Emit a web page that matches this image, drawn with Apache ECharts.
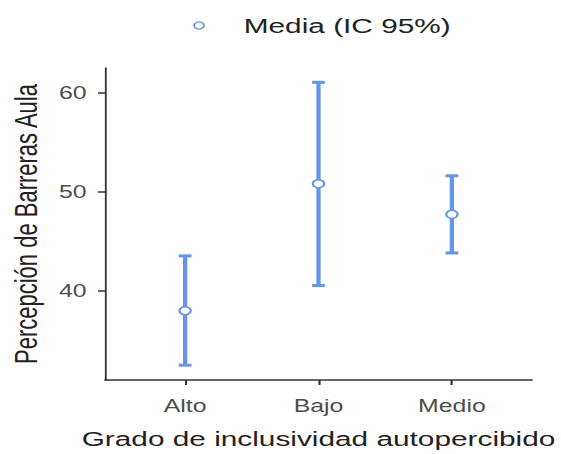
<!DOCTYPE html>
<html>
<head>
<meta charset="utf-8">
<script src="https://cdn.jsdelivr.net/npm/echarts@6/dist/echarts.min.js"></script>
<style>
  html, body { margin: 0; padding: 0; background: #ffffff; overflow: hidden; }
  #wrap { width: 561px; height: 454px; overflow: hidden; }
  #chart { width: 395px; height: 454px; transform: scaleX(1.42); transform-origin: 0 0; }
</style>
</head>
<body>
<div id="wrap"><div id="chart"></div></div>
<script>
const categories = ['Alto', 'Bajo', 'Medio'];
const means = [38.0, 50.85, 47.75];
const lowerCI = [32.5, 40.55, 43.85];
const upperCI = [43.55, 61.1, 51.65];
const yTicks = [40, 50, 60];
const seriesName = 'Media (IC 95%)';

const blue = '#6495ED';
const font = '"Liberation Sans", Arial, sans-serif';

const errData = categories.map((c, i) => [i + 1, lowerCI[i], upperCI[i]]);
const meanData = categories.map((c, i) => [i + 1, means[i]]);
const xTicks = categories.map((c, i) => i + 1);

const chart = echarts.init(document.getElementById('chart'), null, { renderer: 'svg' });
chart.setOption({
  backgroundColor: '#ffffff',
  animation: false,
  textStyle: { fontFamily: font },
  legend: {
    left: 131,
    top: 10,
    itemWidth: 7,
    itemHeight: 7,
    textStyle: { fontFamily: font, fontSize: 21, color: '#222222', padding: [0, 0, 0, 23] },
    data: [{ name: seriesName, icon: 'circle', itemStyle: { color: '#ffffff', borderColor: blue, borderWidth: 1.3 } }]
  },
  grid: { left: 70.4, right: 20.4, top: 68, bottom: 70, containLabel: false },
  xAxis: {
    type: 'value',
    min: 0.4,
    max: 3.6,
    name: 'Grado de inclusividad autopercibido',
    nameLocation: 'middle',
    nameGap: 48,
    nameTextStyle: { fontFamily: font, fontSize: 21, color: '#222222' },
    axisLine: { show: true, lineStyle: { color: '#333333', width: 1.5 } },
    axisTick: { show: true, length: 5, customValues: xTicks, lineStyle: { color: '#333333', width: 1.5 } },
    axisLabel: {
      customValues: xTicks,
      margin: 17,
      fontFamily: font, fontSize: 17.5, color: '#4d4d4d',
      formatter: v => categories[Math.round(v) - 1] || ''
    },
    splitLine: { show: false }
  },
  yAxis: {
    type: 'value',
    min: 31.0,
    max: 62.55,
    name: 'Percepción de Barreras Aula',
    nameLocation: 'middle',
    nameGap: 44,
    nameRotate: 90,
    nameTextStyle: { fontFamily: font, fontSize: 22, color: '#222222' },
    axisLine: { show: true, lineStyle: { color: '#333333', width: 1.3 } },
    axisTick: { show: true, length: 5, customValues: yTicks, lineStyle: { color: '#333333', width: 1.5 } },
    axisLabel: { customValues: yTicks, margin: 13, fontFamily: font, fontSize: 17.5, color: '#4d4d4d' },
    splitLine: { show: false }
  },
  series: [
    {
      type: 'custom',
      name: 'IC',
      data: errData,
      encode: { x: 0, y: [1, 2] },
      renderItem: function (params, api) {
        const x = api.value(0);
        const lo = api.coord([x, api.value(1)]);
        const hi = api.coord([x, api.value(2)]);
        const hw = 4.5;
        const style = { stroke: blue, lineWidth: 3, fill: null };
        return {
          type: 'group',
          children: [
            { type: 'line', shape: { x1: lo[0], y1: lo[1], x2: hi[0], y2: hi[1] }, style: style },
            { type: 'line', shape: { x1: lo[0] - hw, y1: lo[1], x2: lo[0] + hw, y2: lo[1] }, style: style },
            { type: 'line', shape: { x1: hi[0] - hw, y1: hi[1], x2: hi[0] + hw, y2: hi[1] }, style: style }
          ]
        };
      },
      z: 2
    },
    {
      type: 'scatter',
      name: seriesName,
      data: meanData,
      symbol: 'circle',
      symbolSize: 8,
      itemStyle: { color: '#ffffff', borderColor: blue, borderWidth: 1.5, opacity: 1 },
      z: 3
    }
  ]
});
</script>
</body>
</html>
